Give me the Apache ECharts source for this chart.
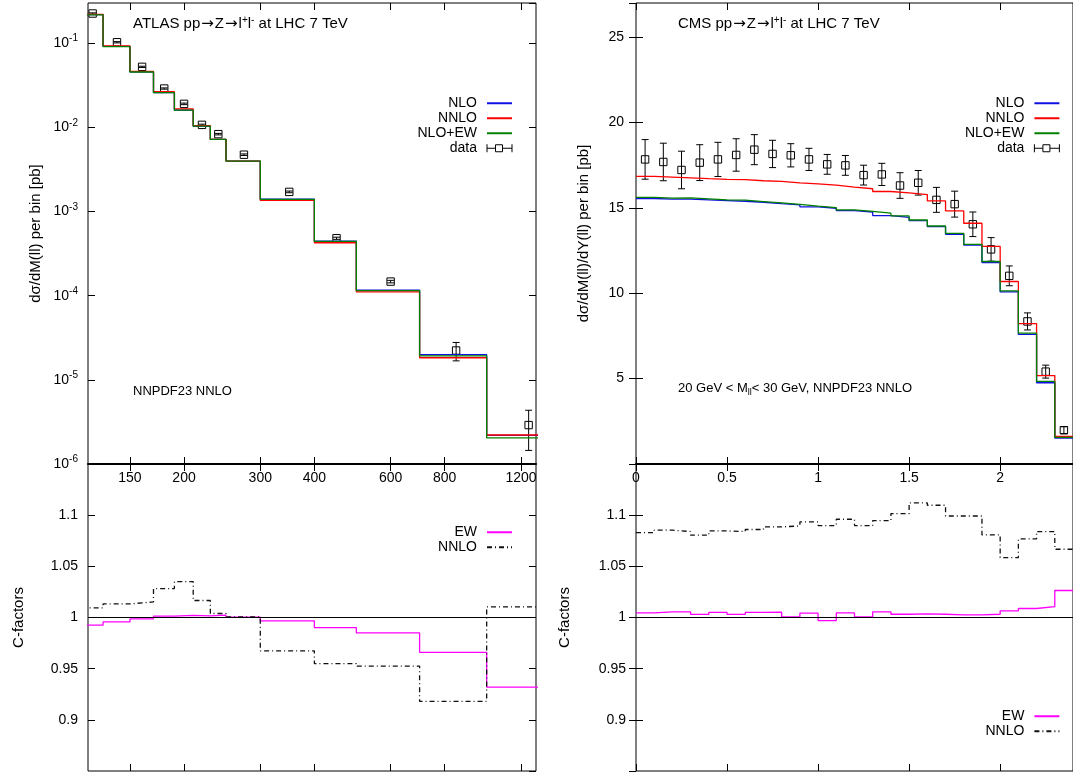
<!DOCTYPE html>
<html><head><meta charset="utf-8">
<script src="https://cdn.jsdelivr.net/npm/echarts@6/dist/echarts.min.js"></script>
<style>html,body{margin:0;padding:0;background:#fff}#c{width:1073px;height:774px}</style>
</head><body><div id="c"></div>
<script>
// ---------- ATLAS (left) ----------
const atlasEdges = [116,130,150,170,190,210,230,250,300,400,500,700,1000,1500];
const atlasNLO   = [0.218,0.0915,0.0455,0.0258,0.0160,0.0103,0.00718,0.00397,0.00140,0.000445,0.0001165,1.99e-5,2.19e-6];
const atlasNNLO  = [0.220,0.0927,0.0462,0.0265,0.0166,0.01047,0.00721,0.00397,0.001355,0.000425,0.000111,1.83e-5,2.21e-6];
const atlasNLOEW = [0.2164,0.0911,0.0454,0.0258,0.0160,0.01032,0.0072,0.00397,0.001395,0.000441,0.0001148,1.925e-5,2.04e-6];
const atlasDataX = [123,140,160,180,200,220,240,275,350,450,600,850,1250];
const atlasData  = [0.225,0.1025,0.0523,0.0289,0.0190,0.0107,0.0083,0.00473,0.00171,0.000481,0.000147,2.23e-5,2.9e-6];
const atlasErr   = [0.004,0.0018,0.0009,0.0005,0.0004,0.0002,0.00017,0.0001,0.00004,0.000014,0.000005,5.5e-6,1.45e-6];
const atlasCEW   = [0.9925,0.9957,0.9986,1.0013,1.002,1.0015,1.0023,1.0003,0.9967,0.9902,0.985,0.966,0.932];
const atlasCNNLO = [1.0094,1.0133,1.0152,1.0283,1.035,1.0166,1.0039,1.0006,0.9674,0.955,0.9524,0.918,1.0104];
const atlasTicks = [150,200,300,400,600,800,1200];

// ---------- CMS (right) ----------
const cmsEdges = [0,0.1,0.2,0.3,0.4,0.5,0.6,0.7,0.8,0.9,1.0,1.1,1.2,1.3,1.4,1.5,1.6,1.7,1.8,1.9,2.0,2.1,2.2,2.3,2.4];
const cmsNNLO  = [16.84,16.80,16.76,16.71,16.67,16.65,16.59,16.55,16.47,16.41,16.33,16.22,16.12,15.96,15.88,15.78,15.41,14.82,14.10,12.75,10.69,8.22,5.18,1.62];
const cmsNLO   = [15.55,15.51,15.51,15.47,15.43,15.39,15.33,15.25,15.18,15.06,14.98,14.84,14.76,14.55,14.45,14.25,13.90,13.45,12.82,11.80,10.08,7.59,4.76,1.52];
const cmsNLOEW = [15.61,15.57,15.59,15.53,15.47,15.45,15.37,15.29,15.21,15.10,15.02,14.88,14.80,14.69,14.53,14.29,13.94,13.51,12.86,11.86,10.14,7.66,4.84,1.56];
const cmsDataX = [0.05,0.15,0.25,0.35,0.45,0.55,0.65,0.75,0.85,0.95,1.05,1.15,1.25,1.35,1.45,1.55,1.65,1.75,1.85,1.95,2.05,2.15,2.25,2.35];
const cmsData  = [17.84,17.69,17.22,17.65,17.84,18.10,18.41,18.16,18.08,17.84,17.55,17.49,16.92,16.96,16.31,16.47,15.47,15.22,14.04,12.57,11.02,8.35,5.41,1.98];
const cmsErr   = [1.16,1.1,1.1,1.05,1.0,0.95,0.88,0.8,0.68,0.65,0.58,0.58,0.58,0.65,0.75,0.72,0.73,0.76,0.72,0.69,0.58,0.5,0.38,0.2];
const cmsCEW   = [1.0045,1.0055,1.0055,1.003,1.005,1.003,1.005,1.0052,1.0006,1.0042,0.997,1.0045,1.0006,1.0055,1.0032,1.0035,1.0032,1.0026,1.0026,1.0032,1.0065,1.0088,1.0107,1.0264];
const cmsCNNLO = [1.083,1.0853,1.084,1.0804,1.0846,1.084,1.086,1.0885,1.0895,1.0934,1.0898,1.096,1.0898,1.0947,1.1016,1.112,1.1097,1.0992,1.0992,1.0807,1.0586,1.0768,1.084,1.0667];

const FONT = 'Liberation Sans';
const TICKFS = 14, LEGFS = 14, NAMEFS = 15;
const RICH = {
  sup:{fontSize:10, lineHeight:10, verticalAlign:'top', fontFamily:FONT, color:'#000'},
  sub:{fontSize:9, lineHeight:9, verticalAlign:'bottom', fontFamily:FONT, color:'#000'},
  ar:{fontSize:15, fontFamily:'DejaVu Sans', color:'#000', padding:[0,1,0,1]}
};

function steps(edges, vals){
  const p = [];
  for (let i = 0; i < vals.length; i++){ p.push([edges[i], vals[i]]); p.push([edges[i+1], vals[i]]); }
  return p;
}
function points(xs, ys, es){ return xs.map((x,i)=>[x, ys[i], es[i]]); }

function renderErr(params, api){
  const x = api.value(0), y = api.value(1), e = api.value(2);
  const c = api.coord([x, y]), hi = api.coord([x, y + e]), lo = api.coord([x, y - e]);
  const cap = 3.5, s = 3.7;
  const st = {stroke:'#000', lineWidth:1, fill:null};
  return {type:'group', children:[
    {type:'line', shape:{x1:c[0], y1:hi[1], x2:c[0], y2:lo[1]}, style:st},
    {type:'line', shape:{x1:c[0]-cap, y1:hi[1], x2:c[0]+cap, y2:hi[1]}, style:st},
    {type:'line', shape:{x1:c[0]-cap, y1:lo[1], x2:c[0]+cap, y2:lo[1]}, style:st},
    {type:'rect', shape:{x:c[0]-s, y:c[1]-s, width:2*s, height:2*s}, style:{stroke:'#000', lineWidth:1, fill:'rgba(0,0,0,0)'}}
  ]};
}

const tickBase = {inside:true, length:7, lineStyle:{color:'#000', width:1}};
const lblBase = {color:'#000', fontSize:TICKFS, fontFamily:FONT};

function xAtlas(grid, pos, showLbl, thick){
  return {type:'log', logBase:10, gridIndex:grid, position:pos, min:120, max:1300,
    axisLine:{show:!!thick, lineStyle:{color:'#000', width:2}},
    axisTick:Object.assign({customValues:atlasTicks}, tickBase),
    axisLabel:Object.assign({show:showLbl, customValues:atlasTicks, margin:7, formatter:v=>String(Math.round(v))}, lblBase),
    splitLine:{show:false}, minorTick:{show:false}, minorSplitLine:{show:false}};
}
function xCms(grid, pos, showLbl, thick){
  return {type:'value', gridIndex:grid, position:pos, min:0, max:2.4, interval:0.5,
    axisLine:{show:!!thick, onZero:false, lineStyle:{color:'#000', width:2}},
    axisTick:tickBase,
    axisLabel:Object.assign({show:showLbl, margin:7, showMaxLabel:false}, lblBase),
    splitLine:{show:false}};
}
function yC(grid, pos, showLbl, name, gap){
  return {type:'value', gridIndex:grid, position:pos, min:0.85, max:1.15, interval:0.05,
    axisLine:{show:false}, axisTick:tickBase,
    axisLabel:Object.assign({show:showLbl, margin:10, showMinLabel:false, showMaxLabel:false}, lblBase),
    splitLine:{show:false},
    name: showLbl ? name : '', nameLocation:'middle', nameGap:gap,
    nameTextStyle:{color:'#000', fontSize:NAMEFS, fontFamily:FONT}};
}

const gridBase = {show:true, borderColor:'#000', borderWidth:1, backgroundColor:'rgba(0,0,0,0)'};

const lineS = (name, xi, yi, data, color, dash) => ({
  type:'line', name, xAxisIndex:xi, yAxisIndex:yi, data, symbol:'none', showSymbol:false,
  lineStyle:{color, width:1.3, type: dash || 'solid'}, itemStyle:{color}, clip:true, silent:true
});
const dataS = (xi, yi, data) => ({
  type:'custom', name:'data', xAxisIndex:xi, yAxisIndex:yi, data, renderItem:renderErr,
  encode:{x:0, y:1}, itemStyle:{color:'#000'}, clip:true, silent:true
});

const DASHDOT = [5,3,1,3];
const BLUE = '#1010e0', RED = '#ff0000', GREEN = '#008000', MAG = '#ff00ff', DK = '#111111';

const dataIcon = 'path://M0,0L0,8M0,4L8.5,4M8.5,0.5L15.5,0.5L15.5,7.5L8.5,7.5ZM15.5,4L25,4M25,0L25,8';

function legendCfg(names, right, top){
  return {
    data: names.map(n => n === 'data'
      ? {name:'data', icon:dataIcon, itemStyle:{color:'rgba(0,0,0,0)', borderColor:'#000', borderWidth:1}}
      : {name:n, itemStyle:{opacity:0}}),
    orient:'vertical', align:'right', right, top, itemWidth:25, itemHeight:8, itemGap:0.5, padding:0,
    selectedMode:false,
    formatter: n => n.replace(/^C /, ''),
    textStyle:{fontSize:LEGFS, lineHeight:14.5, color:'#000', fontFamily:FONT, padding:[0,5,0,0]}
  };
}

function titleCfg(text, left, top, fs){
  return {text, left, top, padding:0,
    textStyle:{fontSize:fs, fontWeight:'normal', color:'#000', fontFamily:FONT, lineHeight:18, rich:RICH}};
}

const option = {
  animation:false,
  textStyle:{fontFamily:FONT, color:'#000'},
  title:[
    titleCfg('ATLAS pp{ar|\u2192}Z{ar|\u2192}l{sup|+}l{sup|-} at LHC 7 TeV', 133, 15, 15),
    titleCfg('NNPDF23 NNLO', 133, 382, 13),
    titleCfg('CMS pp{ar|\u2192}Z{ar|\u2192}l{sup|+}l{sup|-} at LHC 7 TeV', 678, 15, 15),
    titleCfg('20 GeV < M{sub|ll}< 30 GeV, NNPDF23 NNLO', 678, 379, 13)
  ],
  legend:[
    legendCfg(['NLO','NNLO','NLO+EW','data'], 560, 96),
    legendCfg(['C EW','C NNLO'], 560, 525),
    legendCfg(['NLO','NNLO','NLO+EW','data'], 12.6, 96),
    legendCfg(['C EW','C NNLO'], 12.6, 709)
  ],
  grid:[
    Object.assign({left:88, top:3, width:448, height:461}, gridBase),
    Object.assign({left:88, top:464, width:448, height:307}, gridBase),
    Object.assign({left:636, top:3, width:448, height:461}, gridBase),
    Object.assign({left:636, top:464, width:448, height:307}, gridBase)
  ],
  xAxis:[
    xAtlas(0,'bottom',true,true), xAtlas(0,'top',false),
    xAtlas(1,'bottom',false), xAtlas(1,'top',false),
    xCms(2,'bottom',true,true), xCms(2,'top',false),
    xCms(3,'bottom',false), xCms(3,'top',false)
  ],
  yAxis:[
    {type:'log', logBase:10, gridIndex:0, position:'left', min:1e-6, max:0.3,
      axisLine:{show:false}, axisTick:tickBase,
      axisLabel:Object.assign({margin:10, lineHeight:19, showMaxLabel:false, rich:RICH,
        formatter:v=>'10{sup|' + Math.round(Math.log10(v)) + '}'}, lblBase),
      splitLine:{show:false}, minorTick:{show:false},
      name:'d\u03c3/dM(ll) per bin [pb]', nameLocation:'middle', nameGap:45,
      nameTextStyle:{color:'#000', fontSize:NAMEFS, fontFamily:FONT}},
    {type:'log', logBase:10, gridIndex:0, position:'right', min:1e-6, max:0.3,
      axisLine:{show:false}, axisTick:tickBase, axisLabel:{show:false}, splitLine:{show:false}, minorTick:{show:false}},
    yC(1,'left',true,'C-factors',62), yC(1,'right',false),
    {type:'value', gridIndex:2, position:'left', min:0, max:27, interval:5,
      axisLine:{show:false}, axisTick:tickBase,
      axisLabel:Object.assign({margin:12, showMinLabel:false, showMaxLabel:false}, lblBase),
      splitLine:{show:false},
      name:'d\u03c3/dM(ll)/dY(ll) per bin [pb]', nameLocation:'middle', nameGap:45,
      nameTextStyle:{color:'#000', fontSize:NAMEFS, fontFamily:FONT}},
    {type:'value', gridIndex:2, position:'right', min:0, max:27, interval:5,
      axisLine:{show:false}, axisTick:tickBase, axisLabel:{show:false}, splitLine:{show:false}},
    yC(3,'left',true,'C-factors',64), yC(3,'right',false)
  ],
  series:[
    lineS('NLO',0,0,steps(atlasEdges,atlasNLO),BLUE),
    lineS('NNLO',0,0,steps(atlasEdges,atlasNNLO),RED),
    lineS('NLO+EW',0,0,steps(atlasEdges,atlasNLOEW),GREEN),
    dataS(0,0,points(atlasDataX,atlasData,atlasErr)),
    Object.assign(lineS('C EW',2,2,steps(atlasEdges,atlasCEW),MAG), {
      markLine:{silent:true, symbol:'none', label:{show:false}, lineStyle:{color:'#000', width:1, type:'solid'}, data:[{yAxis:1}]}}),
    lineS('C NNLO',2,2,steps(atlasEdges,atlasCNNLO),DK,DASHDOT),
    lineS('NLO',4,4,steps(cmsEdges,cmsNLO),BLUE),
    lineS('NNLO',4,4,steps(cmsEdges,cmsNNLO),RED),
    lineS('NLO+EW',4,4,steps(cmsEdges,cmsNLOEW),GREEN),
    dataS(4,4,points(cmsDataX,cmsData,cmsErr)),
    Object.assign(lineS('C EW',6,6,steps(cmsEdges,cmsCEW),MAG), {
      markLine:{silent:true, symbol:'none', label:{show:false}, lineStyle:{color:'#000', width:1, type:'solid'}, data:[{yAxis:1}]}}),
    lineS('C NNLO',6,6,steps(cmsEdges,cmsCNNLO),DK,DASHDOT)
  ]
};
const chart = echarts.init(document.getElementById('c'), null, {renderer:'canvas'});
chart.setOption(option);
</script>
</body></html>
